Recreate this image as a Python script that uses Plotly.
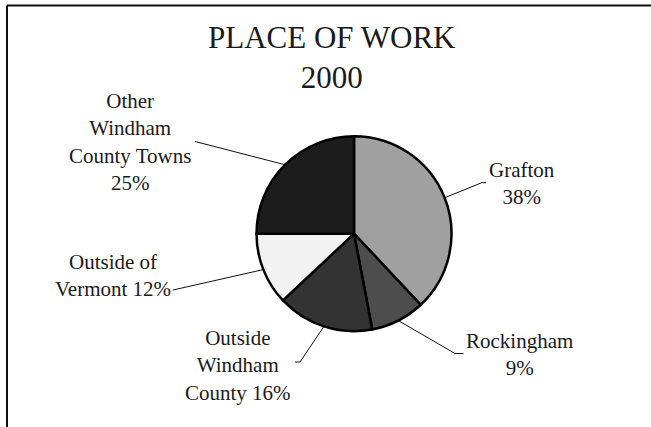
import math
import plotly.graph_objects as go

# ---- data ----
categories = ["Grafton", "Rockingham", "Outside Windham County", "Outside of Vermont", "Other Windham County Towns"]
values = [38, 9, 16, 12, 25]
label_texts = ["Grafton<br>38%", "Rockingham<br>9%", "Outside<br>Windham<br>County 16%",
               "Outside of<br>Vermont 12%", "Other<br>Windham<br>County Towns<br>25%"]
slice_colors = ["#a0a0a0", "#4d4d4d", "#333333", "#f2f2f2", "#1c1c1c"]
title_text = "PLACE OF WORK<br>2000"

# ---- layout geometry (pixels) ----
W, H = 651, 427
cx, cy, R = 354.0, 233.7, 97.5
FONT = "Liberation Serif, Times New Roman, serif"
TXT = "#1a1a1a"

# label centres and leader-line outer points (px)
label_pos = [(521.5, 183), (519.5, 354), (238, 365), (112.5, 275.5), (130, 142)]
leader_outer = [[(481.7, 182.7), (486, 182.7)],
                [(455, 353.5), (463.5, 353.5)],
                [(300, 362), (295, 362)],
                [(173, 290)],
                [(195, 141.5)]]

def px(x):
    return x / W

def py(y):
    return 1 - y / H

fig = go.Figure(go.Pie(
    labels=categories, values=values, sort=False, direction="clockwise", rotation=0,
    marker=dict(colors=slice_colors, line=dict(color="#000000", width=2.5)),
    textinfo="none", hoverinfo="label+percent", showlegend=False,
    domain=dict(x=[px(cx - R), px(cx + R)], y=[py(cy + R), py(cy - R)]),
))

shapes = []
annotations = []

# frame
shapes.append(dict(type="line", xref="paper", yref="paper", x0=px(7), x1=1, y0=py(5.5), y1=py(5.5),
                   line=dict(color="#111111", width=2)))
shapes.append(dict(type="line", xref="paper", yref="paper", x0=px(7), x1=px(7), y0=py(5.5), y1=0,
                   line=dict(color="#111111", width=2)))

# leader lines from slice mid-angles
total = sum(values)
cum = 0
for i, v in enumerate(values):
    mid = (cum + v / 2) / total * 2 * math.pi
    cum += v
    ax = cx + R * math.sin(mid)
    ay = cy - R * math.cos(mid)
    pts = [(ax, ay)] + leader_outer[i]
    for (x0, y0), (x1, y1) in zip(pts[:-1], pts[1:]):
        shapes.append(dict(type="line", xref="paper", yref="paper",
                           x0=px(x0), y0=py(y0), x1=px(x1), y1=py(y1),
                           line=dict(color="#111111", width=1)))
    lx, ly = label_pos[i]
    annotations.append(dict(text=label_texts[i], x=px(lx), y=py(ly), xref="paper", yref="paper",
                            xanchor="center", yanchor="middle", showarrow=False, align="center",
                            font=dict(family=FONT, size=21, color=TXT)))

# title
annotations.append(dict(text=title_text, x=px(332), y=py(57), xref="paper", yref="paper",
                        xanchor="center", yanchor="middle", showarrow=False, align="center",
                        font=dict(family=FONT, size=31, color=TXT)))

fig.update_layout(width=W, height=H, margin=dict(l=0, r=0, t=0, b=0),
                  paper_bgcolor="white", plot_bgcolor="white",
                  shapes=shapes, annotations=annotations)

fig.write_html("out.html", config={"displayModeBar": False},
               post_script="document.body.style.margin='0';document.body.style.padding='0';")
